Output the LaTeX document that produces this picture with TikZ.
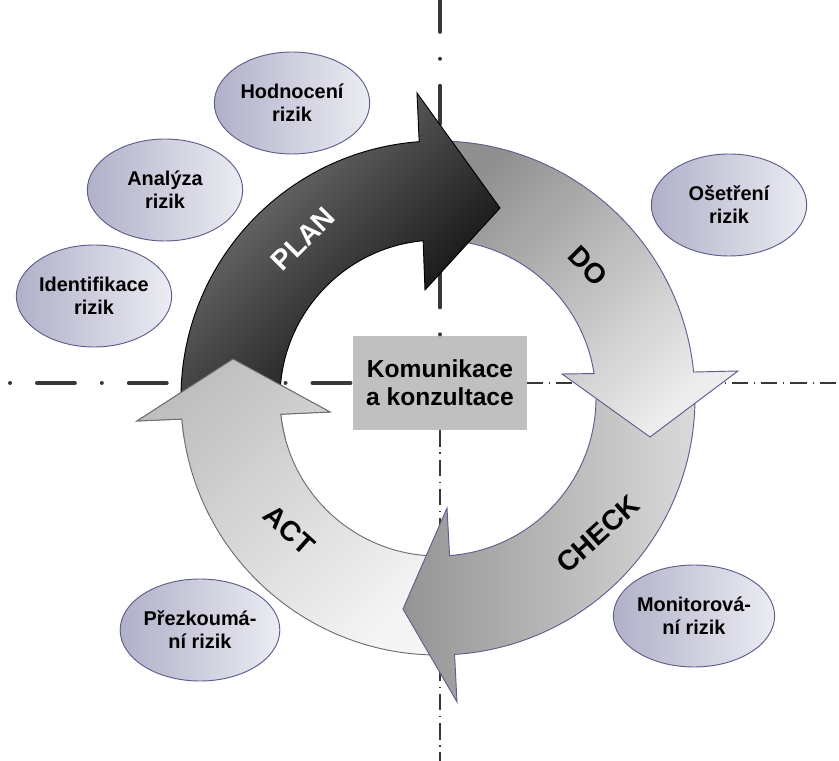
\documentclass[tikz,border=0pt]{standalone}
\usepackage{fontspec}
\setmainfont{Liberation Sans}
\usepackage{xcolor}
\usepackage{tikz}
\usetikzlibrary{shapes.geometric}

\definecolor{ringEdge}{HTML}{5E5E8E}
\definecolor{actEdge}{HTML}{6E6E6E}
\definecolor{ellDark}{HTML}{B0B0C9}
\definecolor{ellLight}{HTML}{ECECF3}
\definecolor{axisLine}{HTML}{383838}
\definecolor{boxGray}{HTML}{C0C0C0}

\begin{document}
\begin{tikzpicture}[
        x=0.03cm, y=0.03cm, % <--- one unit = one pixel of the layout, origin in the ring centre
        font=\bfseries,
        % Define the style for the risk ellipses
        riskellipse/.style={
            ellipse, draw=ringEdge, line width=0.8pt,
            left color=ellDark, right color=ellLight,
            minimum width=4.66cm, minimum height=3.06cm, inner sep=0pt,
            align=center, font=\bfseries\fontsize{17}{19.6}\selectfont
        },
        centrebox/.style={
            rectangle, fill=boxGray,
            minimum width=5.19cm, minimum height=2.82cm,
            align=center, font=\bfseries\fontsize{21}{24}\selectfont
        },
        phaselabel/.style={font=\bfseries\fontsize{24}{28}\selectfont},
        % Ring segments
        planarrow/.style={draw=black, line width=0.8pt,
            top color=black!50, bottom color=black, shading angle=45},
        doarrow/.style={draw=ringEdge, line width=0.8pt,
            top color=black!44, bottom color=black!7, shading angle=45},
        checkarrow/.style={draw=ringEdge, line width=0.8pt,
            left color=black!42, right color=black!14},
        actarrow/.style={draw=actEdge, line width=0.8pt,
            top color=black!25, bottom color=black!4, shading angle=45},
        % Axis lines
        axisthick/.style={draw=axisLine, line width=3.4pt, line cap=round,
            dash pattern=on 0pt off 23pt on 32.4pt off 23pt},
        axisthin/.style={draw=axisLine, line width=1.1pt,
            dash pattern=on 14pt off 5pt on 1pt off 5pt}
    ]

    \useasboundingbox (-438,-363) rectangle (401,398);

    % ==========================
    % CENTRE BOX
    % ==========================
    \node[centrebox] (komunikace) at (2,15) {Komunikace\\a konzultace};

    % ==========================
    % AXIS LINES (BACKGROUND)
    % ==========================
    \coordinate (leftend)   at (-428,15);
    \coordinate (rightend)  at (401,15);
    \coordinate (topend)    at (2,398);
    \coordinate (bottomend) at (2,-363);

    \draw[axisthick] (leftend) -- (komunikace.west);
    \draw[axisthick, dash phase=28.2pt] (topend) -- (komunikace.north);
    \draw[axisthin] (komunikace.east) -- (rightend);
    \draw[axisthin] (komunikace.south) -- (bottomend);

    % ==========================
    % PDCA RING
    % ==========================
    % ACT
    \path[actarrow] (272:257) arc[start angle=272, end angle=184.7, radius=257]
        -- (-301,-23) -- (-205,39) -- (-108,-14)
        -- (185.9:158) arc[start angle=185.9, end angle=272, radius=158] -- cycle;

    % CHECK
    \path[checkarrow] (4:257) arc[start angle=4, end angle=-86.3, radius=257]
        -- (19,-304) -- (-35,-211) -- (9,-110)
        -- (-85.8:158) arc[start angle=-85.8, end angle=4, radius=158] -- cycle;

    % DO
    \path[doarrow] (93:257) arc[start angle=93, end angle=5.8, radius=257]
        -- (300,27) -- (212,-39) -- (124,24)
        -- (8.9:158) arc[start angle=8.9, end angle=93, radius=158] -- cycle;

    % PLAN
    \path[planarrow] (183:257) arc[start angle=183, end angle=94.2, radius=257]
        -- (-21,305) -- (62,190) -- (-13,108)
        -- (95.4:158) arc[start angle=95.4, end angle=183, radius=158] -- cycle;

    % ACT head again, so that it lies over the PLAN tail
    \begin{scope}
        \clip (-320,-40) rectangle (-90,55);
        \path[actarrow] (272:257) arc[start angle=272, end angle=184.7, radius=257]
            -- (-301,-23) -- (-205,39) -- (-108,-14)
            -- (185.9:158) arc[start angle=185.9, end angle=272, radius=158] -- cycle;
    \end{scope}

    % Phase labels
    \node[phaselabel, text=white, rotate=45] (plan)  at (-135,159)  {PLAN};
    \node[phaselabel, rotate=-45]            (do)    at (150,132)   {DO};
    \node[phaselabel, rotate=42]             (check) at (160,-136)  {CHECK};
    \node[phaselabel, rotate=-42]            (act)   at (-149,-132) {ACT};

    % ==========================
    % RISK STEPS
    % ==========================
    \node[riskellipse] (hodnoceni)    at (-146,295)  {Hodnocení\\rizik};
    \node[riskellipse] (analyza)      at (-273,208)  {Analýza\\rizik};
    \node[riskellipse] (identifikace) at (-344,102)  {Identifikace\\rizik};
    \node[riskellipse] (osetreni)     at (291,193)   {Ošetření\\rizik};
    \node[riskellipse] (monitorovani) at (256,-218)  {Monitorová-\\ní rizik};
    \node[riskellipse] (prezkoumani)  at (-238,-232) {Přezkoumá-\\ní rizik};

\end{tikzpicture}
\end{document}
